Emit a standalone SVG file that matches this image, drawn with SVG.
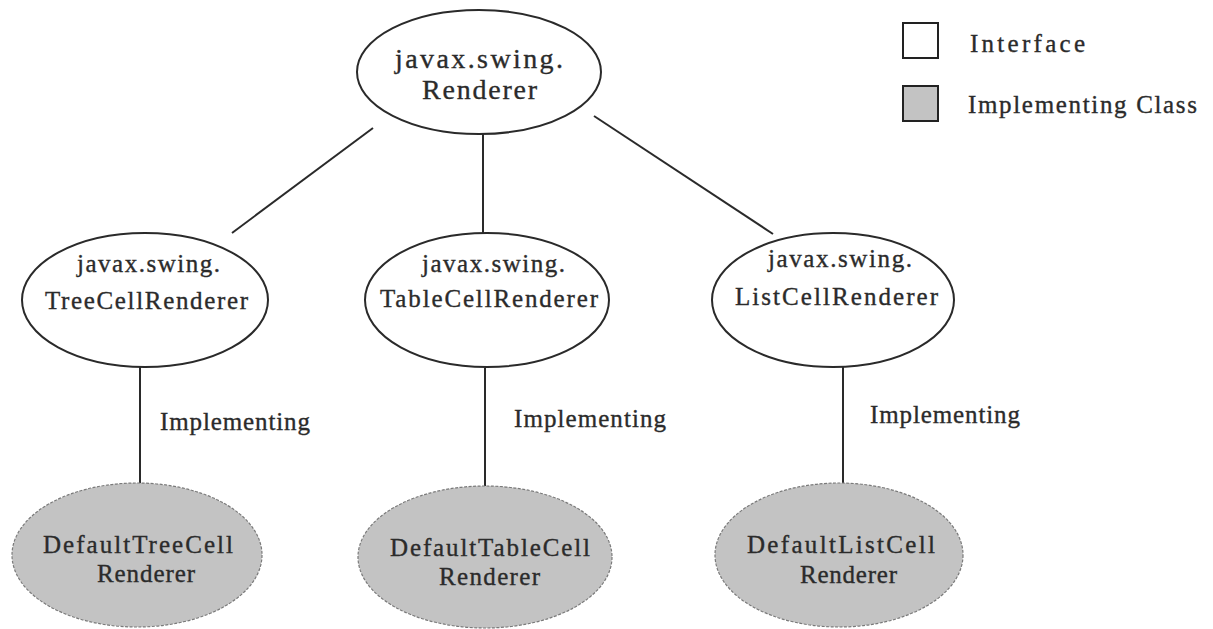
<svg xmlns="http://www.w3.org/2000/svg" width="1213" height="629" viewBox="0 0 1213 629">
  <style>
    .iface { fill: #ffffff; stroke: #2a2a2a; stroke-width: 2; }
    .impl { fill: #c3c3c3; stroke: #7a7a7a; stroke-width: 1.2; stroke-dasharray: 3 1.5; }
    .edge { stroke: #2a2a2a; stroke-width: 2; fill: none; }
    .lbl { font-family: "Liberation Serif", "DejaVu Serif", serif; font-size: 25px; fill: #2b2b2b; stroke: #2b2b2b; stroke-width: 0.35; }
    .big { font-size: 28px; }
  </style>
  <rect width="1213" height="629" fill="#ffffff"/>

  <!-- connectors -->
  <g id="connectors">
    <line class="edge" x1="373" y1="128" x2="232" y2="233"/>
    <line class="edge" x1="483" y1="134" x2="483" y2="233"/>
    <line class="edge" x1="594" y1="116" x2="773" y2="234"/>
    <line class="edge" x1="140" y1="367" x2="140" y2="484"/>
    <line class="edge" x1="485" y1="368" x2="485" y2="486"/>
    <line class="edge" x1="843" y1="367" x2="843" y2="483"/>
    <text class="lbl" x="160" y="430" textLength="150" lengthAdjust="spacing">Implementing</text>
    <text class="lbl" x="514" y="427" textLength="152" lengthAdjust="spacing">Implementing</text>
    <text class="lbl" x="870" y="423" textLength="150" lengthAdjust="spacing">Implementing</text>
  </g>

  <!-- interfaces -->
  <g id="renderer">
    <ellipse class="iface" cx="479" cy="72" rx="122" ry="62"/>
    <text class="lbl big" x="395" y="68" textLength="168" lengthAdjust="spacing">javax.swing.</text>
    <text class="lbl big" x="422" y="99" textLength="115" lengthAdjust="spacing">Renderer</text>
  </g>
  <g id="tree-cell-renderer">
    <ellipse class="iface" cx="145" cy="300" rx="123" ry="67"/>
    <text class="lbl" x="77" y="272" textLength="143" lengthAdjust="spacing">javax.swing.</text>
    <text class="lbl" x="45" y="309" textLength="203" lengthAdjust="spacing">TreeCellRenderer</text>
  </g>
  <g id="table-cell-renderer">
    <ellipse class="iface" cx="487" cy="300" rx="122" ry="67"/>
    <text class="lbl" x="422" y="272" textLength="143" lengthAdjust="spacing">javax.swing.</text>
    <text class="lbl" x="380" y="307" textLength="218" lengthAdjust="spacing">TableCellRenderer</text>
  </g>
  <g id="list-cell-renderer">
    <ellipse class="iface" cx="833" cy="300" rx="121" ry="67"/>
    <text class="lbl" x="768" y="267" textLength="144" lengthAdjust="spacing">javax.swing.</text>
    <text class="lbl" x="735" y="305" textLength="203" lengthAdjust="spacing">ListCellRenderer</text>
  </g>

  <!-- implementing classes -->
  <g id="default-tree-cell-renderer">
    <ellipse class="impl" cx="137" cy="555" rx="125" ry="72"/>
    <text class="lbl" x="43" y="553" textLength="190" lengthAdjust="spacing">DefaultTreeCell</text>
    <text class="lbl" x="97" y="582" textLength="98" lengthAdjust="spacing">Renderer</text>
  </g>
  <g id="default-table-cell-renderer">
    <ellipse class="impl" cx="485" cy="557" rx="127" ry="71"/>
    <text class="lbl" x="390" y="556" textLength="200" lengthAdjust="spacing">DefaultTableCell</text>
    <text class="lbl" x="439" y="585" textLength="101" lengthAdjust="spacing">Renderer</text>
  </g>
  <g id="default-list-cell-renderer">
    <ellipse class="impl" cx="839" cy="555" rx="124" ry="72"/>
    <text class="lbl" x="747" y="553" textLength="188" lengthAdjust="spacing">DefaultListCell</text>
    <text class="lbl" x="800" y="583" textLength="97" lengthAdjust="spacing">Renderer</text>
  </g>

  <!-- legend -->
  <g id="legend">
    <rect x="903" y="23" width="35" height="35" fill="#ffffff" stroke="#222" stroke-width="2"/>
    <text class="lbl" x="970" y="52" textLength="115" lengthAdjust="spacing">Interface</text>
    <rect x="903" y="86" width="35" height="35" fill="#c3c3c3" stroke="#222" stroke-width="2"/>
    <text class="lbl" x="968" y="113" textLength="229" lengthAdjust="spacing">Implementing Class</text>
  </g>
</svg>
